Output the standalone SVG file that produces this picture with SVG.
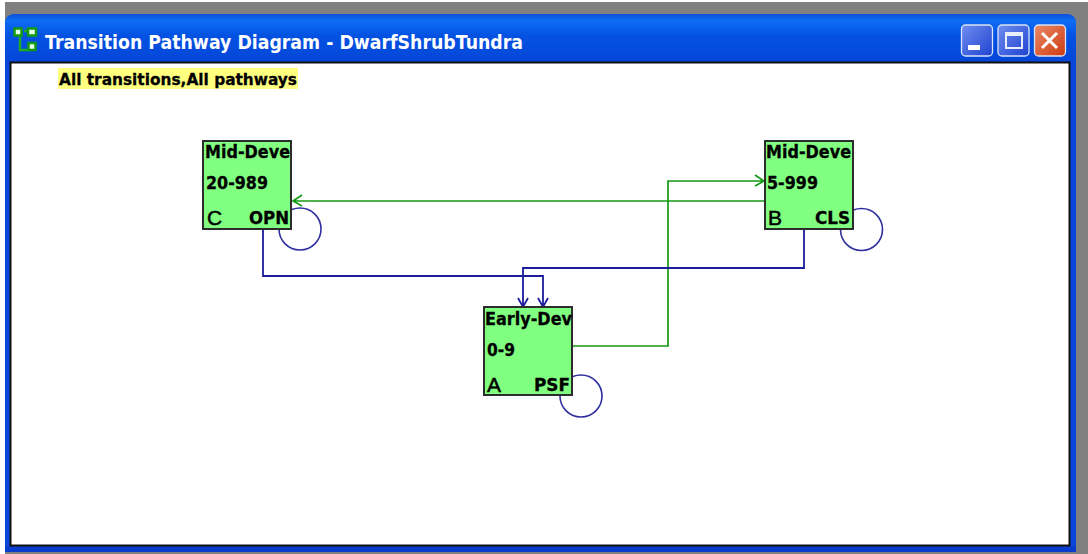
<svg xmlns="http://www.w3.org/2000/svg" width="1088" height="554" viewBox="0 0 1088 554">
<style>
text{font-family:"DejaVu Sans","Liberation Sans",sans-serif;fill:#000}
.t{font-weight:bold;font-size:16.500px;stroke:#000;stroke-width:.3px}
.m{font-size:17px;font-weight:bold;stroke:#000;stroke-width:.3px}
.big{font-size:21px;font-family:"Liberation Sans",sans-serif;stroke:#000;stroke-width:.5px}
.box{fill:#80ff80;stroke:#2c2c2c;stroke-width:2}
.g{fill:none;stroke:#159a15;stroke-width:1.700}
.b{fill:none;stroke:#1c1c9c;stroke-width:1.800}
.loop{fill:none;stroke:#2f2f9f;stroke-width:1.600}
.btn{stroke:#d8e4f8;stroke-width:1.300}
</style>
<defs>
<linearGradient id="tb" x1="0" y1="0" x2="0" y2="1">
<stop offset="0" stop-color="#0a50d8"/><stop offset=".14" stop-color="#0d6cf5"/><stop offset=".45" stop-color="#0452e2"/><stop offset="1" stop-color="#0546d8"/>
</linearGradient>
<linearGradient id="bb" x1="0" y1="0" x2="1" y2="1"><stop offset="0" stop-color="#6f8df0"/><stop offset="1" stop-color="#1f42d0"/></linearGradient>
<linearGradient id="rb" x1="0" y1="0" x2="1" y2="1"><stop offset="0" stop-color="#ec8a68"/><stop offset="1" stop-color="#cc3a10"/></linearGradient>
</defs>
<rect width="1088" height="554" fill="#fff"/>
<g id="window">
<rect x="5" y="2" width="1083" height="552" fill="#808080"/>
<path d="M5 552V24Q5 14 16 14H1066Q1076 14 1076 24V552Z" fill="#0846dc"/>
<path d="M5 24Q5 14 16 14H1066Q1076 14 1076 24V62H5Z" fill="url(#tb)"/>
<rect x="5" y="546" width="1071" height="6" fill="#0a3ccc"/>
<rect x="10.500" y="62.500" width="1059" height="483" fill="#fff" stroke="#111" stroke-width="2"/>
<path d="M20 33V50H30M24 31H30" fill="none" stroke="#22aa22" stroke-width="2.500"/>
<g fill="#e8ffe8" stroke="#129a12" stroke-width="2.500">
<rect x="14.500" y="28.500" width="7" height="7"/><rect x="28" y="28.500" width="8" height="7"/><rect x="28.500" y="43" width="7" height="7"/>
</g>
<text x="45" y="49" font-size="19.500" font-weight="bold" style="fill:#fff" textLength="478" lengthAdjust="spacingAndGlyphs">Transition Pathway Diagram - DwarfShrubTundra</text>
<rect class="btn" x="961.500" y="25" width="31" height="31" rx="4" fill="url(#bb)"/>
<rect x="968" y="45" width="12" height="5" fill="#fff"/>
<rect class="btn" x="998" y="25" width="31" height="31" rx="4" fill="url(#bb)"/>
<rect x="1006" y="33" width="16" height="15" fill="none" stroke="#e8eefc" stroke-width="2"/>
<rect x="1006" y="33" width="16" height="3" fill="#e8eefc"/>
<rect class="btn" x="1034.500" y="25" width="31" height="31" rx="4" fill="url(#rb)"/>
<path d="M1042 33L1057 48M1057 33L1042 48" stroke="#fff" stroke-width="3" fill="none"/>
</g>
<g id="caption">
<rect x="58" y="68" width="240" height="21" fill="#ffff80"/>
<text class="t" x="59" y="85" textLength="238" lengthAdjust="spacingAndGlyphs">All transitions,All pathways</text>
</g>
<g id="connectors">
<circle class="loop" cx="300" cy="229" r="21"/>
<circle class="loop" cx="861.500" cy="229.500" r="21"/>
<circle class="loop" cx="581" cy="396" r="21"/>
<path class="g" d="M764 201H293M302 195L293 201L302 206"/>
<path class="g" d="M572 346H668V181H764M755 175L764 181L755 186"/>
<path class="b" d="M263 229V276H543V307M538 298L543 307L548 298"/>
<path class="b" d="M804 229V268H523V307M518 298L523 307L528 298"/>
</g>
<g id="node-c">
<rect class="box" x="203" y="141" width="88" height="88"/>
<text class="m" x="205" y="158" textLength="85" lengthAdjust="spacingAndGlyphs">Mid-Deve</text>
<text class="m" x="206" y="189" textLength="62" lengthAdjust="spacingAndGlyphs">20-989</text>
<text class="big" x="207" y="225">C</text>
<text class="m" x="249" y="224" textLength="40" lengthAdjust="spacingAndGlyphs">OPN</text>
</g>
<g id="node-b">
<rect class="box" x="765" y="141" width="88" height="88"/>
<text class="m" x="766" y="158" textLength="85" lengthAdjust="spacingAndGlyphs">Mid-Deve</text>
<text class="m" x="767" y="189" textLength="51" lengthAdjust="spacingAndGlyphs">5-999</text>
<text class="big" x="768" y="225">B</text>
<text class="m" x="815" y="224" textLength="35" lengthAdjust="spacingAndGlyphs">CLS</text>
</g>
<g id="node-a">
<rect class="box" x="484" y="307" width="88" height="88"/>
<text class="m" x="485" y="325" textLength="87" lengthAdjust="spacingAndGlyphs">Early-Dev</text>
<text class="m" x="487" y="356" textLength="28" lengthAdjust="spacingAndGlyphs">0-9</text>
<text class="big" x="487" y="392">A</text>
<text class="m" x="534" y="391" textLength="36" lengthAdjust="spacingAndGlyphs">PSF</text>
</g>
</svg>
